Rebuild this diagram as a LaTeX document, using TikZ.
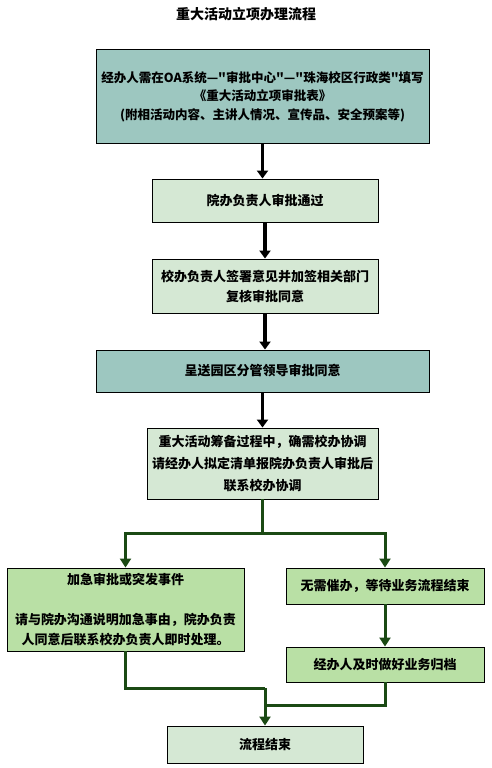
\documentclass[tikz,border=0pt]{standalone}
\usepackage{fontspec}
\newfontfamily\cjk{Noto Sans CJK SC}
\usetikzlibrary{arrows.meta}
\definecolor{tealbox}{HTML}{9DC7C0}
\definecolor{paleg}{HTML}{D5E8D4}
\definecolor{midg}{HTML}{B9E0A5}
\definecolor{darkg}{HTML}{1B4A14}

\begin{document}
\begin{tikzpicture}[x=1pt, y=-1pt,
  box/.style={draw=black, line width=0.9pt, align=center, inner sep=0pt,
    font=\cjk\bfseries\fontsize{13}{20}\selectfont},
  blk/.style={line width=3.6pt, -{Triangle[width=11pt,length=8pt]}},
  grn/.style={draw=darkg, line width=3pt},
  grnarr/.style={grn, -{Triangle[width=11pt,length=9pt]}}]
\useasboundingbox (0,0) rectangle (492,768);
% title
\node[font=\cjk\bfseries\fontsize{14}{16}\selectfont] (title) at (246,14) {重大活动立项办理流程};
% main column
\node[box, fill=tealbox, minimum width=333pt, minimum height=94pt,
  font=\cjk\bfseries\fontsize{12.5}{18.5}\selectfont] (apply) at (262.5,96.5)
  {经办人需在OA系统—"审批中心"—"珠海校区行政类"填写\\《重大活动立项审批表》\\(附相活动内容、主讲人情况、宣传品、安全预案等)};
\node[box, fill=paleg, minimum width=226pt, minimum height=43pt] (college) at (265,200.5) {院办负责人审批通过};
\node[box, fill=paleg, minimum width=226pt, minimum height=54pt] (office) at (265,286) {校办负责人签署意见并加签相关部门\\复核审批同意};
\node[box, fill=tealbox, minimum width=333pt, minimum height=42pt] (campus) at (262.5,371) {呈送园区分管领导审批同意};
\node[box, fill=paleg, minimum width=231pt, minimum height=71pt, font=\cjk\bfseries\fontsize{13}{22}\selectfont] (prep) at (262.5,463.5)
  {重大活动筹备过程中，确需校办协调\\请经办人拟定清单报院办负责人审批后\\联系校办协调};
% branches
\node[box, fill=midg, minimum width=237pt, minimum height=83pt] (urgent) at (125.5,609.5)
  {加急审批或突发事件\\[20pt]请与院办沟通说明加急事由，院办负责\\人同意后联系校办负责人即时处理。};
\node[box, fill=midg, minimum width=198pt, minimum height=36pt] (wait) at (385,586) {无需催办，等待业务流程结束};
\node[box, fill=midg, minimum width=198pt, minimum height=35pt] (archive) at (385,664.5) {经办人及时做好业务归档};
\node[box, fill=paleg, minimum width=196pt, minimum height=37pt] (finish) at (265,744.5) {流程结束};
\coordinate (split) at (262.5,533);
\coordinate (joinl) at (265,688);
\coordinate (joinr) at (265,705);
% connectors
\draw[blk] (apply.south) -- (apply.south |- college.north);
\draw[blk] (college.south) -- (office.north);
\draw[blk] (office.south) -- (office.south |- campus.north);
\draw[blk] (campus.south) -- (prep.north);
\draw[grn] (prep.south) -- (split);
\draw[grnarr] (split) -| (urgent.north);
\draw[grnarr] (split) -| (wait.north);
\draw[grnarr] (wait.south) -- (archive.north);
\draw[grn] (urgent.south) |- (joinl);
\draw[grn] (archive.south) |- (joinr);
\draw[grnarr] (joinl) -- (finish.north);
\end{tikzpicture}
\end{document}
